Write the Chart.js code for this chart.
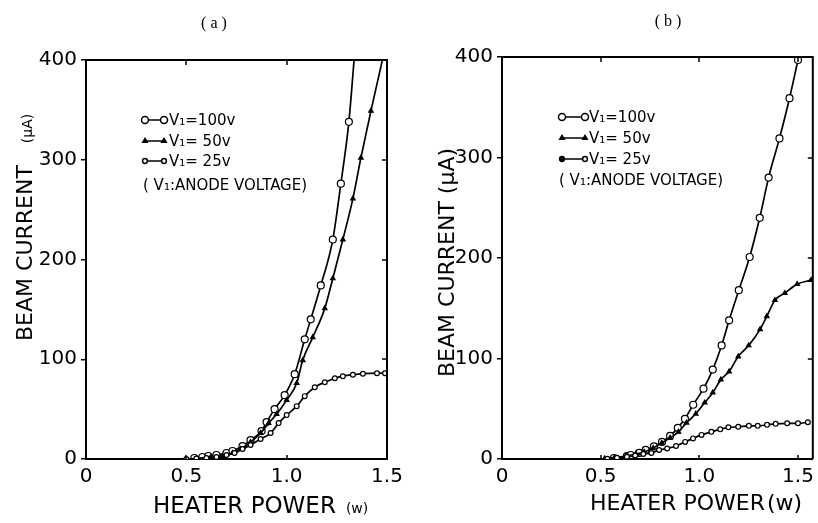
<!DOCTYPE html>
<html>
<head>
<meta charset="utf-8">
<script src="https://cdn.jsdelivr.net/npm/chart.js@4.4.1/dist/chart.umd.min.js"></script>
<style>
  html, body { margin: 0; padding: 0; background: #fff; }
  #wrap { position: relative; width: 818px; height: 523px; overflow: hidden; }
  canvas { position: absolute; top: 0; }
  #chartA { left: 0; }
  #chartB { left: 409px; }
</style>
</head>
<body>
<div id="wrap">
  <canvas id="chartA" width="409" height="523"></canvas>
  <canvas id="chartB" width="409" height="523"></canvas>
</div>
<script>
// axis ticks shared by both panels
const X_TICKS = [0, 0.5, 1.0, 1.5];
const Y_TICKS = [0, 100, 200, 300, 400];
const SERIES_LABELS = ['V\u2081=100v', 'V\u2081= 50v', 'V\u2081= 25v'];
const NOTE = '( V\u2081:ANODE VOLTAGE)';

// (a) heater power (W) vs beam current (uA)
const A_100_X = [0.54, 0.58, 0.61, 0.65, 0.70, 0.73, 0.78, 0.82, 0.875, 0.90, 0.94, 0.99, 1.04, 1.09, 1.12, 1.17, 1.23, 1.27, 1.31, 1.336];
const A_100_Y = [1, 2, 3, 4, 6, 8, 13, 19, 28, 37, 50, 64, 85, 120, 140, 174, 220, 276, 338, 400];
const A_50_X  = [0.55, 0.62, 0.68, 0.73, 0.77, 0.82, 0.87, 0.91, 0.95, 1.00, 1.05, 1.08, 1.13, 1.19, 1.23, 1.28, 1.33, 1.37, 1.42, 1.477];
const A_50_Y  = [0.5, 1.5, 3, 6, 10, 17, 26, 36, 45, 59, 76, 99, 122, 151, 181, 220, 261, 302, 349, 400];
const A_25_X  = [0.50, 0.55, 0.60, 0.65, 0.70, 0.74, 0.78, 0.82, 0.87, 0.92, 0.96, 1.00, 1.05, 1.09, 1.14, 1.19, 1.24, 1.28, 1.33, 1.38, 1.45, 1.49];
const A_25_Y  = [0, 0.5, 1, 2, 4, 6, 10, 14, 20, 26, 36, 44, 53, 63, 72, 77, 81, 83, 84.5, 85.5, 86, 86];

// (b)
const B_100_X = [0.567, 0.633, 0.653, 0.695, 0.728, 0.77, 0.811, 0.852, 0.891, 0.927, 0.969, 1.021, 1.068, 1.113, 1.151, 1.20, 1.255, 1.306, 1.351, 1.406, 1.457, 1.50];
const B_100_Y = [1, 3, 4, 6, 9, 12.5, 17, 23, 31, 40, 54, 70, 89, 113, 138, 168, 201, 240, 280, 319, 359, 397];
const B_50_X  = [0.52, 0.57, 0.628, 0.678, 0.72, 0.766, 0.81, 0.852, 0.894, 0.935, 0.982, 1.027, 1.068, 1.109, 1.151, 1.197, 1.25, 1.308, 1.342, 1.383, 1.433, 1.496, 1.566];
const B_50_Y  = [0.5, 1.5, 3, 5, 7, 11, 16, 21, 27, 36, 45, 56, 66, 79, 87, 102, 113, 129, 142, 158, 165, 174, 178];
const B_25_X  = [0.534, 0.583, 0.633, 0.675, 0.716, 0.757, 0.796, 0.837, 0.882, 0.928, 0.968, 1.011, 1.061, 1.106, 1.147, 1.197, 1.251, 1.296, 1.343, 1.387, 1.445, 1.50, 1.55];
const B_25_Y  = [0.3, 1.3, 2.3, 3.5, 5, 6, 9, 10.5, 13, 17, 20.5, 24, 27, 29.5, 31.5, 32, 33, 33, 34, 35, 35.5, 35.5, 36.5];

const FONT = 'DejaVu Sans';

// 100v, 50v, 25v
const MARKERS = [
  { pointStyle: 'circle', radius: 3.5, fill: '#fff' },
  { pointStyle: 'triangle', radius: 2.6, fill: '#000' },
  { pointStyle: 'circle', radius: 2.4, fill: '#fff' }
];

function pts(xs, ys) {
  return xs.map((x, i) => ({ x: x, y: ys[i] }));
}

function series(label, data, m) {
  return {
    label: label,
    data: data,
    borderColor: '#000',
    borderWidth: 1.7,
    cubicInterpolationMode: 'monotone',
    pointStyle: m.pointStyle,
    // no marker where the curve leaves through the top of the frame
    pointRadius: c => (c.raw && c.raw.y >= 400 ? 0 : m.radius),
    pointBorderWidth: 1.2,
    pointBorderColor: '#000',
    pointBackgroundColor: m.fill
  };
}

function drawMarker(ctx, m, x, y, fill) {
  ctx.fillStyle = fill || m.fill;
  ctx.strokeStyle = '#000';
  Chart.helpers.drawPoint(ctx, { pointStyle: m.pointStyle, radius: m.radius, borderWidth: 1.2, rotation: 0 }, x, y);
}

// frame, inward ticks, panel letter, axis titles and the key
const panelDecor = {
  id: 'panelDecor',
  afterDraw(chart, args, o) {
    const ctx = chart.ctx;
    const a = chart.chartArea;
    const xs = chart.scales.x, ys = chart.scales.y;
    ctx.save();

    ctx.strokeStyle = '#000';
    ctx.lineWidth = 2;
    ctx.beginPath();
    ctx.moveTo(a.left, a.top);
    ctx.lineTo(a.right, a.top);
    ctx.lineTo(a.right, a.bottom);
    ctx.stroke();

    ctx.lineWidth = 1.5;
    ctx.beginPath();
    X_TICKS.forEach(v => {
      if (v <= xs.min || v >= xs.max) return;
      const px = Math.round(xs.getPixelForValue(v));
      ctx.moveTo(px, a.top); ctx.lineTo(px, a.top + 5);
      ctx.moveTo(px, a.bottom); ctx.lineTo(px, a.bottom - 4);
    });
    Y_TICKS.forEach(v => {
      if (v <= ys.min || v >= ys.max) return;
      const py = Math.round(ys.getPixelForValue(v));
      ctx.moveTo(a.right, py); ctx.lineTo(a.right - 5, py);
    });
    ctx.stroke();

    ctx.fillStyle = '#000';

    // panel letter
    ctx.font = '16px "Liberation Serif"';
    ctx.textAlign = 'center';
    ctx.textBaseline = 'middle';
    ctx.fillText(o.letter.text, o.letter.x, o.letter.y);

    // x title
    ctx.textAlign = 'left';
    ctx.textBaseline = 'alphabetic';
    let x = o.xTitle.x;
    o.xTitle.parts.forEach(p => {
      ctx.font = p.size + 'px "' + FONT + '"';
      x += p.gap || 0;
      ctx.fillText(p.text, x, o.xTitle.y);
      x += ctx.measureText(p.text).width;
    });

    // y title, read bottom to top
    ctx.save();
    ctx.translate(o.yTitle.x, o.yTitle.y);
    ctx.rotate(-Math.PI / 2);
    let t = 0;
    o.yTitle.parts.forEach(p => {
      ctx.font = p.size + 'px "' + FONT + '"';
      t += p.gap || 0;
      ctx.fillText(p.text, t, 0);
      t += ctx.measureText(p.text).width;
    });
    ctx.restore();

    // key
    const k = o.key;
    ctx.font = k.size + 'px "' + FONT + '"';
    ctx.textBaseline = 'middle';
    ctx.lineWidth = 1.5;
    SERIES_LABELS.forEach((label, i) => {
      const y = k.rows[i];
      const m = MARKERS[i];
      ctx.strokeStyle = '#000';
      ctx.beginPath();
      ctx.moveTo(k.x1, y); ctx.lineTo(k.x2, y);
      ctx.stroke();
      drawMarker(ctx, m, k.x1, y, k.leftFill ? k.leftFill[i] : null);
      drawMarker(ctx, m, k.x2, y);
      ctx.fillStyle = '#000';
      ctx.fillText(label, k.tx, y + 1);
    });
    ctx.fillText(NOTE, k.nx, k.rows[3] + 1);

    ctx.restore();
  }
};

function makePanel(id, sets, xMax, box, deco) {
  // given 100v, 50v, 25v; drawn in reverse so the large circles sit on top
  const datasets = sets.map((s, i) => series(SERIES_LABELS[i], s, MARKERS[i])).reverse();
  return new Chart(document.getElementById(id), {
    type: 'line',
    data: { datasets: datasets },
    options: {
      responsive: false,
      devicePixelRatio: 1,
      animation: false,
      events: [],
      layout: { padding: { top: box.top, right: box.right, left: 0, bottom: 0 } },
      scales: {
        x: {
          type: 'linear',
          min: 0,
          max: xMax,
          afterBuildTicks: s => { s.ticks = X_TICKS.map(v => ({ value: v })); },
          afterFit: s => { s.height = box.xh; s.paddingLeft = 0; s.paddingRight = 0; },
          ticks: {
            color: '#000',
            padding: 6,
            maxRotation: 0,
            font: { family: FONT, size: 20 },
            callback: v => (v === 0 ? '0' : v.toFixed(1))
          },
          grid: { display: true, drawOnChartArea: false, drawTicks: false },
          border: { display: true, color: '#000', width: 2 }
        },
        y: {
          min: 0,
          max: 400,
          afterBuildTicks: s => { s.ticks = Y_TICKS.map(v => ({ value: v })); },
          afterFit: s => { s.width = box.yw; s.paddingTop = 0; s.paddingBottom = 0; },
          ticks: {
            color: '#000',
            padding: 4,
            font: { family: FONT, size: 20 }
          },
          grid: { display: true, drawOnChartArea: false, drawTicks: true, tickLength: 5, color: '#000', lineWidth: 1.5 },
          border: { display: true, color: '#000', width: 2 }
        }
      },
      plugins: {
        legend: { display: false },
        tooltip: { enabled: false },
        panelDecor: deco
      }
    },
    plugins: [panelDecor]
  });
}

const chartA = makePanel('chartA',
  [pts(A_100_X, A_100_Y), pts(A_50_X, A_50_Y), pts(A_25_X, A_25_Y)],
  1.5,
  { top: 60, right: 22, yw: 86, xh: 64 },
  {
    letter: { text: '( a )', x: 214, y: 24 },
    xTitle: { x: 153, y: 513, parts: [{ text: 'HEATER POWER', size: 23 }, { text: '(w)', size: 14, gap: 10 }] },
    yTitle: { x: 32, y: 341, parts: [{ text: 'BEAM CURRENT', size: 22 }, { text: '(\u03bcA)', size: 14, gap: 22 }] },
    key: { size: 15, rows: [120, 141, 161, 185], x1: 145, x2: 164, tx: 169, nx: 143 }
  });

const chartB = makePanel('chartB',
  [pts(B_100_X, B_100_Y), pts(B_50_X, B_50_Y), pts(B_25_X, B_25_Y)],
  1.575,
  { top: 57, right: 0, yw: 93, xh: 64 },
  {
    letter: { text: '( b )', x: 259, y: 22 },
    xTitle: { x: 181, y: 510, parts: [{ text: 'HEATER POWER', size: 22 }, { text: '(w)', size: 22, gap: 2 }] },
    yTitle: { x: 45, y: 377, parts: [{ text: 'BEAM CURRENT (\u03bcA)', size: 22 }] },
    key: { size: 15, rows: [117, 138, 159, 180], x1: 153, x2: 176, tx: 180, nx: 150, leftFill: ['#fff', '#000', '#000'] }
  });
</script>
</body>
</html>
